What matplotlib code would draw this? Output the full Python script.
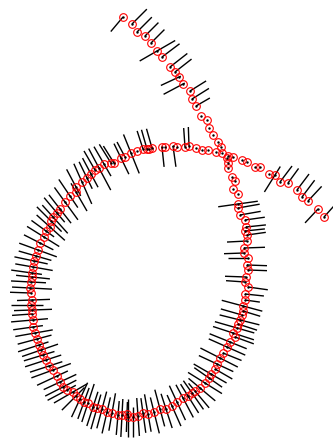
import numpy as np
import matplotlib
matplotlib.use("Agg")
import matplotlib.pyplot as plt
from matplotlib.collections import LineCollection

# track positions (pixel frame, y down), in the order the track runs
track_x = [123, 132, 137, 145, 151, 157, 162, 170, 175, 179, 183, 190, 192, 196, 201, 207,
           209, 213, 218, 221,
           227, 228, 228, 232, 235, 233, 238, 238, 238, 240, 245, 246, 245, 247, 247, 244,
           244, 248, 247, 248, 246, 245, 248, 245, 245, 243, 243, 242, 240, 238, 237, 233,
           235, 230, 227, 223, 220, 217, 215, 211, 209, 205, 200, 195, 192, 188,
           183, 177, 172, 166, 160, 154, 148, 143, 138, 133, 128, 127, 122, 118, 112, 107,
           102, 97, 93, 88, 84, 80, 76, 73, 67, 63, 60, 57, 53, 49, 46, 43, 41, 39,
           37, 35, 33, 33, 32, 32, 31, 32, 31, 30, 31, 32, 32, 33, 34, 36, 38, 40, 44, 46,
           50, 51, 53, 57, 60, 65, 70, 76, 76, 82, 87, 91,
           95, 99, 104, 111, 114, 121, 125, 131, 137, 143, 147, 149, 152, 162, 165, 173,
           177, 185, 189, 196, 202, 208, 216, 222, 228, 233,
           242, 247, 255, 260, 269, 275, 280, 288, 297, 302, 308, 318, 324]
track_y = [17, 24, 32, 36, 43, 51, 57, 67, 72, 77, 84, 91, 99, 106, 116, 120,
           128, 135, 142, 147,
           158, 163, 168, 177, 181, 189, 194, 204, 208, 215, 220, 227, 231, 235, 241, 248,
           253, 258, 265, 270, 277, 282, 287, 294, 300, 306, 311, 315, 320, 324, 328, 333,
           337, 342, 347, 353, 358, 364, 369, 374, 378, 383, 388, 391, 393, 396,
           398, 402, 406, 409, 409, 412, 414, 413, 416, 417, 417, 414, 415, 415, 413, 412,
           409, 408, 407, 403, 402, 399, 396, 392, 390, 387, 382, 376, 370, 366, 360, 355, 350, 345,
           339, 333, 327, 320, 314, 310, 305, 300, 293, 288, 282, 277, 273, 267, 261, 256, 250, 243, 237, 231,
           227, 221, 217, 213, 209, 202, 196, 192, 187, 182, 178, 174,
           170, 168, 164, 163, 163, 158, 157, 153, 151, 149, 149, 149, 148, 147, 147, 146,
           147, 147, 146, 148, 150, 150, 152, 153, 156, 157,
           160, 162, 167, 167, 174, 175, 182, 183, 190, 197, 201, 209, 217]

# stick at each position: direction (deg) and extent from the point along it
seg_angle = [-50, -45, -45, -45, -45, -30, -37, -38, -38, -25, -28, -32, -32, -30, 0, 0,
             0, 0, 0, 0,
             0, 0, 0, 0, 0, 0, 0, -8, -10, -10, -8, -6, -6, -8, -3, -2,
             -2, 0, 2, 2, 2, 4, 8, 6, 8, 15, 17, 16, 14, 18, 16, 18,
             20, 22, 24, 22, 27, 25, 30, 30, 35, 32, 40, 50, 55, 58,
             62, 65, 66, 72, 75, 76, 80, 82, 86, 90, 90, 92, 93, 95, 100, 103,
             105, 106, 108, 108, 110, 115, 135, 150, 152, 153, 155, 155, 160, 162, 162, 163, 161, 162,
             165, 170, 172, 175, 176, 178, 180, 178, 182, 183, 183, 186, 188, 190, 192, 196, 200, 207, 212, 216,
             222, 225, 228, 230, 232, 234, 236, 240, 242, 246, 244, 242,
             240, 242, 240, 238, 238, 244, 242, 248, 0, 252, 254, 0, 254, 264, 0, 262,
             0, 266, 268, 0, 0, 0, 0, 0, 0, 0,
             0, 0, 0, 0, 0, -58, -53, -54, -53, -53, -47, -47, -48]
seg_lo = [-19, 0, 0, 0, 0, -20, 0, 0, 0, -20, -22, 0, 0, 0, 0, 0,
          0, 0, 0, 0,
          0, 0, 0, 0, 0, 0, 0, -20, 0, 0, 0, 0, 0, 0, -20, 0,
          -20, -20, 0, 0, -21, -19, 0, 0, 0, -22, 0, -22, -21, 0, -23, -21,
          0, -22, -20, 0, -22, -20, 0, -20, -18, -20, -15, -10, -15, -14,
          -15, -18, -12, -16, -20, -15, -20, -15, -18, -10, -18, -12, -16, -14, -20, -15,
          -18, -14, -16, -20, -15, -18, -12, -16, -10, -15, -18, -12, -19, -14, -16, -12, -18, -10,
          -15, -18, -10, -15, 0, -20, -12, -18, 0, -22, -15, -18, -10, -20, -14, -16, -20, -15, -18, -10,
          -20, -15, -22, -12, -18, -22, -14, -22, -10, -24, -12, -15,
          0, -25, -14, 0, 0, -18, 0, -22, 0, 0, 0, 0, 0, -20, 0, -21,
          0, 0, 0, 0, 0, 0, 0, 0, 0, 0,
          0, 0, 0, 0, 0, -20, 0, 0, 0, 0, 0, -19, 0]
seg_hi = [0, 21, 21, 19, 19, 21, 22, 22, 21, 2, 2, 19, 20, 16, 0, 0,
          0, 0, 0, 0,
          0, 0, 0, 0, 0, 0, 0, 20, 22, 21, 20, 20, 20, 19, 0, 21,
          0, 0, 20, 19, 0, 0, 20, 19, 15, 20, 18, 0, 20, 20, 18, 22,
          20, 18, 20, 20, 20, 18, 20, 18, 16, 20, 20, 22, 20, 20,
          22, 20, 22, 20, 18, 22, 18, 20, 20, 20, 20, 18, 22, 20, 18, 22,
          20, 22, 20, 20, 18, 20, 20, 22, 22, 20, 18, 22, 23, 20, 22, 20, 20, 22,
          20, 20, 20, 22, 20, 18, 20, 15, 21, 18, 20, 16, 21, 18, 20, 18, 20, 18, 20, 18,
          18, 20, 16, 20, 18, 18, 20, 10, 20, 20, 18, 18,
          22, 22, 20, 22, 20, 16, 17, 20, 0, 19, 20, 0, 20, 0, 0, 0,
          0, 19, 19, 0, 0, 0, 0, 0, 0, 0,
          0, 0, 0, 0, 0, 10, 20, 18, 20, 21, 20, 0, 16]

x = np.array(track_x, dtype=float)
y = np.array(track_y, dtype=float)
a = np.radians(seg_angle)
lo = np.array(seg_lo, dtype=float)
hi = np.array(seg_hi, dtype=float)
ux, uy = np.cos(a), np.sin(a)

start = np.column_stack([x + lo*ux, y + lo*uy])
end = np.column_stack([x + hi*ux, y + hi*uy])
keep = hi != lo
segs = np.stack([start, end], axis=1)[keep]

fig = plt.figure(figsize=(3.33, 4.38), dpi=100)
ax = fig.add_axes([0, 0, 1, 1])
ax.add_collection(LineCollection(segs, colors='k', linewidths=1.0))
ax.plot(x, y, 'o', mfc='none', mec='red', ms=5.5, mew=0.8)
ax.plot(x, y, '.', color='k', ms=1.5)
ax.set_xlim(0, 333)
ax.set_ylim(438, 0)
ax.axis('off')

fig.savefig('out.png', dpi=100)
